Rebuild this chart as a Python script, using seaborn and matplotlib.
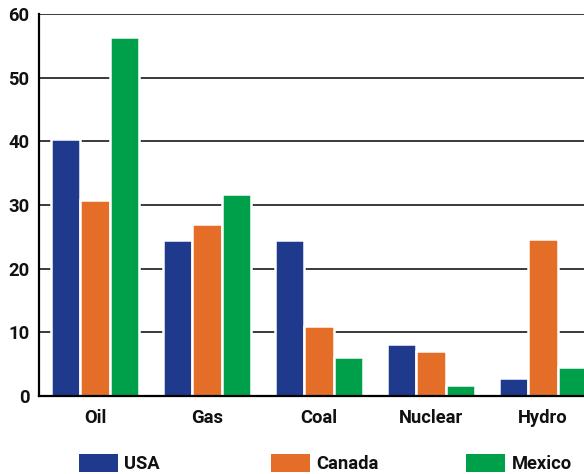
import matplotlib
matplotlib.use("Agg")
import matplotlib.pyplot as plt
import seaborn as sns
import pandas as pd
from matplotlib.patches import Patch

sources = ["Oil", "Gas", "Coal", "Nuclear", "Hydro"]
usa = [40.3, 24.5, 24.5, 8.2, 2.8]
canada = [30.8, 27.0, 11.0, 7.1, 24.6]
mexico = [56.4, 31.7, 6.1, 1.7, 4.6]
countries = ["USA", "Canada", "Mexico"]
colors = ["#1f398c", "#e46d27", "#00a04b"]
yticks = [0, 10, 20, 30, 40, 50, 60]

df = pd.DataFrame({
    "source": sources * 3,
    "country": [c for c in countries for _ in sources],
    "share": usa + canada + mexico,
})

sns.set_theme(style="white")
plt.rcParams["font.family"] = ["Roboto", "DejaVu Sans"]

W, H = 584, 474
FS = 13.2
WEIGHT = "semibold"
fig = plt.figure(figsize=(W / 100, H / 100), dpi=100)
ax = fig.add_axes([39 / W, 78 / H, 560 / W, 382 / H])

sns.barplot(data=df, x="source", y="share", hue="country", order=sources,
            hue_order=countries, palette=colors, width=0.79,
            edgecolor="white", linewidth=1.8, saturation=1, ax=ax, legend=False)

ax.set_xlim(-0.5, 4.5)
ax.set_ylim(0, 60)
ax.set_yticks(yticks)
ax.set_xlabel("")
ax.set_ylabel("")
ax.set_axisbelow(True)
ax.yaxis.grid(True, color="#2b2b2b", linewidth=1.3)
ax.xaxis.grid(False)

for s in ["top", "right"]:
    ax.spines[s].set_visible(False)
for s in ["left", "bottom"]:
    ax.spines[s].set_color("black")
    ax.spines[s].set_linewidth(1.6)

ax.tick_params(axis="y", length=0, pad=7, labelsize=FS, labelcolor="#111111")
ax.tick_params(axis="x", which="major", length=0, pad=9.5, labelsize=FS,
               labelcolor="#111111")
ax.set_xticks([0.5, 1.5, 2.5, 3.5], minor=True)
ax.tick_params(axis="x", which="minor", direction="in", length=7, width=1.3,
               color="#222222")
for lab in ax.get_xticklabels() + ax.get_yticklabels():
    lab.set_fontweight(WEIGHT)

# legend entries placed individually along the bottom
legend_x = [79, 271, 466]
for name, col, lx in zip(countries, colors, legend_x):
    leg = fig.legend(handles=[Patch(facecolor=col, edgecolor="none")],
                     labels=[name], loc="upper left",
                     bbox_to_anchor=(lx / W, 1 - 454 / H),
                     frameon=False, fontsize=FS, handlelength=2.13,
                     handleheight=1.15, handletextpad=0.35, borderpad=0,
                     borderaxespad=0)
    for t in leg.get_texts():
        t.set_fontweight(WEIGHT)
        t.set_color("#111111")

fig.savefig("out.png", dpi=100)
